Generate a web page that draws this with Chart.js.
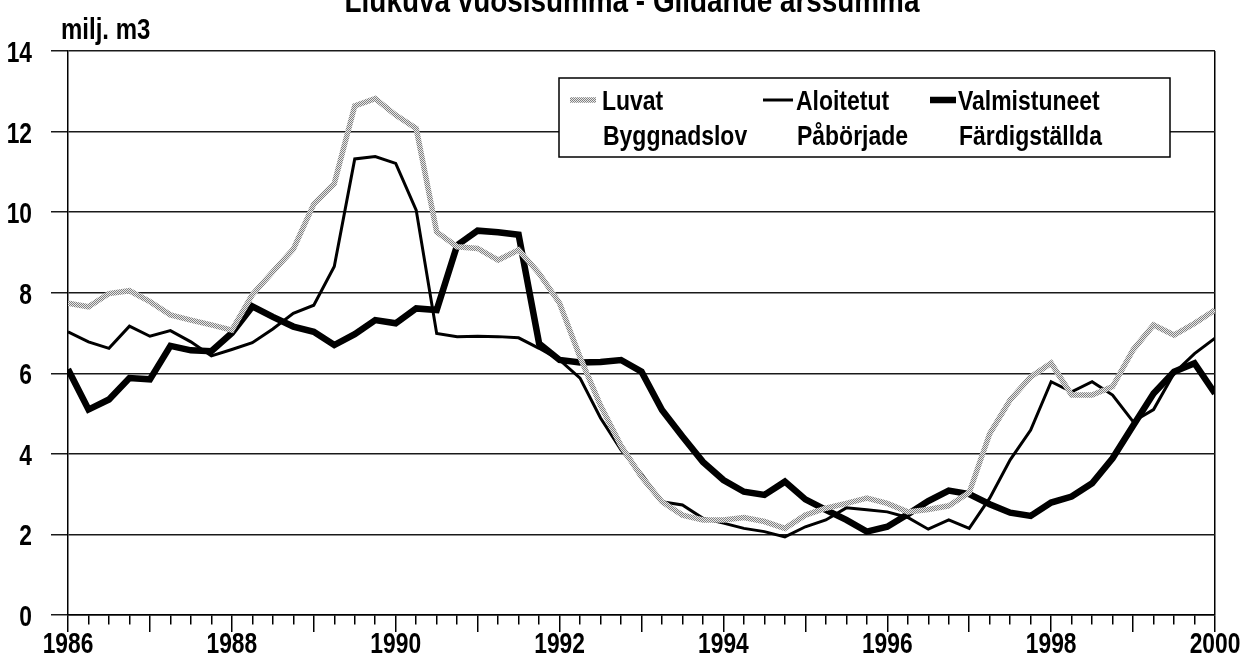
<!DOCTYPE html>
<html><head><meta charset="utf-8">
<script src="https://cdn.jsdelivr.net/npm/chart.js@4.4.1/dist/chart.umd.min.js"></script>
<style>html,body{margin:0;padding:0;background:#fff;}canvas{display:block}</style>
</head><body>
<canvas id="c" width="1240" height="666"></canvas>
<script>
const FONT = "'Liberation Sans', Arial, sans-serif";
const titleText = 'Liukuva vuosisumma - Glidande årssumma';
const unitText = 'milj. m3';
const yTicks = [0, 2, 4, 6, 8, 10, 12, 14];
const xLabelYears = [1986, 1988, 1990, 1992, 1994, 1996, 1998, 2000];

const quarters = [
 1986, 1986.25, 1986.5, 1986.75, 1987, 1987.25, 1987.5, 1987.75,
 1988, 1988.25, 1988.5, 1988.75, 1989, 1989.25, 1989.5, 1989.75,
 1990, 1990.25, 1990.5, 1990.75, 1991, 1991.25, 1991.5, 1991.75,
 1992, 1992.25, 1992.5, 1992.75, 1993, 1993.25, 1993.5, 1993.75,
 1994, 1994.25, 1994.5, 1994.75, 1995, 1995.25, 1995.5, 1995.75,
 1996, 1996.25, 1996.5, 1996.75, 1997, 1997.25, 1997.5, 1997.75,
 1998, 1998.25, 1998.5, 1998.75, 1999, 1999.25, 1999.5, 1999.75, 2000];

const luvat = [
 7.74, 7.65, 7.98, 8.05, 7.78, 7.45, 7.32, 7.20,
 7.07, 7.95, 8.52, 9.08, 10.2, 10.71, 12.64, 12.82,
 12.41, 12.08, 9.51, 9.14, 9.10, 8.81, 9.06, 8.48,
 7.74, 6.4, 5.2, 4.2, 3.43, 2.81, 2.48, 2.36,
 2.36, 2.42, 2.32, 2.15, 2.48, 2.65, 2.77, 2.90,
 2.77, 2.56, 2.62, 2.71, 3.04, 4.5, 5.34, 5.91,
 6.25, 5.46, 5.46, 5.67, 6.58, 7.20, 6.95, 7.24, 7.57];

const aloitetut = [
 7.03, 6.78, 6.62, 7.17, 6.92, 7.06, 6.78, 6.43,
 6.59, 6.76, 7.1, 7.49, 7.69, 8.65, 11.32, 11.38,
 11.21, 10.05, 6.99, 6.91, 6.92, 6.91, 6.88, 6.62,
 6.33, 5.88, 4.89, 4.1, 3.5, 2.81, 2.73, 2.40,
 2.28, 2.15, 2.07, 1.94, 2.19, 2.36, 2.66, 2.61,
 2.56, 2.42, 2.13, 2.36, 2.15, 2.9, 3.85, 4.59,
 5.79, 5.54, 5.79, 5.46, 4.80, 5.1, 6.0, 6.49, 6.87];

const valmistuneet = [
 6.1, 5.1, 5.35, 5.88, 5.85, 6.68, 6.57, 6.55,
 7.0, 7.66, 7.40, 7.16, 7.03, 6.70, 6.97, 7.32,
 7.24, 7.61, 7.57, 9.18, 9.54, 9.50, 9.44, 6.74,
 6.33, 6.27, 6.28, 6.33, 6.04, 5.09, 4.43, 3.8,
 3.35, 3.06, 2.98, 3.31, 2.87, 2.61, 2.36, 2.07,
 2.19, 2.5, 2.83, 3.09, 3.0, 2.75, 2.54, 2.46,
 2.79, 2.94, 3.27, 3.89, 4.7, 5.5, 6.04, 6.25, 5.50];

const seriesNamesFi = ['Luvat', 'Aloitetut', 'Valmistuneet'];
const seriesNamesSv = ['Byggnadslov', 'Påbörjade', 'Färdigställda'];

function halftone() {
  const c = document.createElement('canvas'); c.width = 2; c.height = 2;
  const g = c.getContext('2d');
  g.fillStyle = '#e8e8e8'; g.fillRect(0, 0, 2, 2);
  g.fillStyle = '#808080'; g.fillRect(0, 0, 1, 1); g.fillRect(1, 1, 1, 1);
  return g.createPattern(c, 'repeat');
}
const grayPattern = halftone();

const pts = arr => arr.map((v, i) => ({x: quarters[i], y: v}));

// condensed look: Liberation Sans squeezed horizontally
function narrowText(ctx, text, x, y, align, size, squeeze) {
  ctx.save();
  ctx.font = 'bold ' + size + 'px ' + FONT;
  ctx.textAlign = align;
  ctx.textBaseline = 'alphabetic';
  ctx.fillStyle = '#000';
  ctx.translate(x, y);
  ctx.scale(squeeze, 1);
  ctx.fillText(text, 0, 0);
  ctx.restore();
}

const decorPlugin = {
  id: 'decor',
  afterDraw(chart) {
    const ctx = chart.ctx;
    const xs = chart.scales.x, ys = chart.scales.y;
    // axis labels, positioned by the library's scales
    xs.ticks.forEach(t => {
      if (xLabelYears.includes(t.value)) {
        narrowText(ctx, String(t.value), xs.getPixelForValue(t.value), 653, 'center', 30, 0.76);
      }
    });
    ys.ticks.forEach(t => {
      narrowText(ctx, String(t.value), 32, ys.getPixelForValue(t.value) + 11, 'right', 30, 0.76);
    });
    // title (clipped at top as in the original)
    narrowText(ctx, titleText, 632, 12, 'center', 34, 0.82);
    // unit
    narrowText(ctx, unitText, 61, 39, 'left', 30, 0.8);
    // legend box
    ctx.save();
    const bx = 559, by = 78, bw = 611, bh = 79;
    ctx.fillStyle = '#fff';
    ctx.fillRect(bx, by, bw, bh);
    ctx.strokeStyle = '#000'; ctx.lineWidth = 1.5;
    ctx.strokeRect(bx, by, bw, bh);
    ctx.restore();
    const sampleX = [570, 763, 930], sampleW = [26, 30, 26], textX = [602, 796, 958];
    chart.data.datasets.forEach((ds, i) => {
      ctx.save();
      ctx.beginPath();
      ctx.strokeStyle = ds.borderColor;
      ctx.lineWidth = ds.borderWidth;
      ctx.lineCap = 'butt';
      ctx.moveTo(sampleX[i], 100); ctx.lineTo(sampleX[i] + sampleW[i], 100);
      ctx.stroke();
      ctx.restore();
      narrowText(ctx, seriesNamesFi[i], textX[i], 110, 'left', 28, 0.82);
      narrowText(ctx, seriesNamesSv[i], textX[i] + 1, 145, 'left', 28, 0.82);
    });
  }
};

Chart.defaults.font.family = FONT;
Chart.defaults.color = '#000';

new Chart(document.getElementById('c'), {
  type: 'line',
  data: {
    datasets: [
      {label: seriesNamesFi[0], data: pts(luvat), borderColor: grayPattern, borderWidth: 5.5},
      {label: seriesNamesFi[1], data: pts(aloitetut), borderColor: '#000', borderWidth: 3},
      {label: seriesNamesFi[2], data: pts(valmistuneet), borderColor: '#000', borderWidth: 6.5}
    ]
  },
  options: {
    responsive: false,
    animation: false,
    devicePixelRatio: 1,
    elements: {point: {radius: 0}, line: {tension: 0, borderJoinStyle: 'miter', borderCapStyle: 'butt'}},
    layout: {padding: {top: 51, right: 25, left: 0, bottom: 0}},
    plugins: {legend: {display: false}, title: {display: false}, tooltip: {enabled: false}},
    scales: {
      x: {
        type: 'linear',
        min: quarters[0], max: quarters[quarters.length - 1],
        afterFit: s => { s.height = 51; },
        border: {display: true, color: '#000', width: 1.5},
        grid: {
          drawOnChartArea: true,
          color: c => (c.tick && c.tick.value === quarters[quarters.length - 1]) ? '#000' : 'rgba(0,0,0,0)',
          lineWidth: 1.5,
          tickColor: '#000',
          tickWidth: 1.5,
          tickLength: 17,
          tickBorderDash: c => (c.tick && Number.isInteger(c.tick.value)) ? [] : [9, 100]
        },
        ticks: {stepSize: 0.25, autoSkip: false, maxRotation: 0, display: false}
      },
      y: {
        min: yTicks[0], max: yTicks[yTicks.length - 1],
        afterFit: s => { s.width = 68; },
        border: {display: true, color: '#000', width: 1.5},
        grid: {color: '#1a1a1a', lineWidth: 1.5, tickLength: 17},
        ticks: {stepSize: 2, display: false}
      }
    }
  },
  plugins: [decorPlugin]
});
</script>
</body></html>
